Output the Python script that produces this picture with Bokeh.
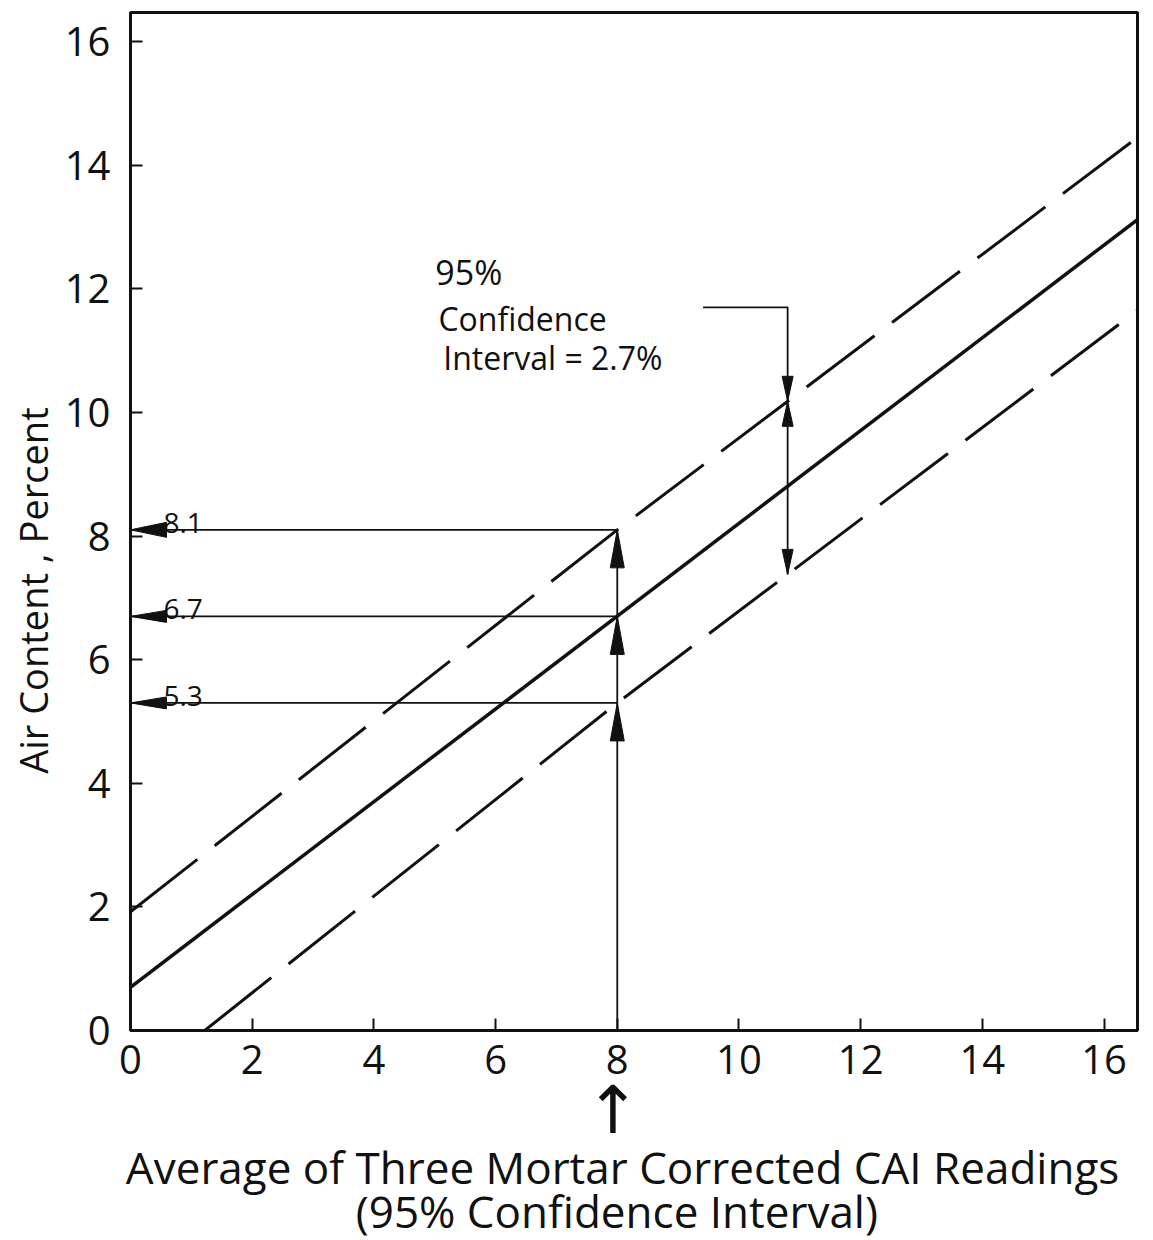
import numpy as np
from bokeh.plotting import figure
from bokeh.models import Range1d, Label, FixedTicker, Title
from bokeh.embed import file_html
from bokeh.resources import INLINE

# Axis ticks
x_ticks = [0, 2, 4, 6, 8, 10, 12, 14, 16]
y_ticks = [0, 2, 4, 6, 8, 10, 12, 14, 16]
x_max, y_max = 16.55, 16.47

# Calibration line: air content vs. average corrected CAI reading
fit_x = [0.0, 16.55]
fit_y = [0.7, 13.12]

# 95% confidence bounds
upper_x = [0.0, 8.0, 16.55]
upper_y = [1.92, 8.1, 14.45]
lower_x = [1.22, 8.0, 16.55]
lower_y = [0.0, 5.3, 11.65]

# Worked example at a reading of 8
reading = 8.0
readouts = [8.1, 6.7, 5.3]
readout_labels = ["8.1", "6.7", "5.3"]

# Where the confidence interval width is shown
interval_at = 10.8

FONT = "Open Sans"
INK = "#111111"
NBSP = "\u00a0"

LEFT, RIGHT, TOP, BOTTOM = 130, 16, 12, 210
W, H = 1153, 1240
px_x = (W - LEFT - RIGHT) / x_max   # pixels per x unit
px_y = (H - TOP - BOTTOM) / y_max   # pixels per y unit

p = figure(width=W, height=H, x_range=Range1d(0, x_max), y_range=Range1d(0, y_max),
           output_backend="svg", toolbar_location=None,
           min_border_left=LEFT, min_border_right=RIGHT,
           min_border_top=TOP, min_border_bottom=BOTTOM)

p.grid.visible = False
p.outline_line_color = INK
p.outline_line_width = 3
p.background_fill_color = "white"
p.border_fill_color = "white"

for ax, ticks in ((p.xaxis[0], x_ticks), (p.yaxis[0], y_ticks)):
    ax.ticker = FixedTicker(ticks=ticks)
    ax.axis_line_width = 3
    ax.axis_line_color = INK
    ax.major_tick_in = 12
    ax.major_tick_out = 0
    ax.major_tick_line_width = 2
    ax.major_tick_line_color = INK
    ax.minor_tick_line_color = None
    ax.major_label_text_font = FONT
    ax.major_label_text_font_size = "40px"
    ax.major_label_text_color = INK
p.xaxis[0].major_label_standoff = 14
p.yaxis[0].major_label_standoff = 20


def head(tx, ty, dx, dy, length, width):
    """Filled arrowhead with its tip at (tx, ty), pointing along (dx, dy) in screen pixels."""
    bx, by = -dx * length, -dy * length
    nx, ny = -dy * width / 2, dx * width / 2
    xs = [tx, tx + (bx + nx) / px_x, tx + (bx - nx) / px_x]
    ys = [ty, ty + (by + ny) / px_y, ty + (by - ny) / px_y]
    return xs, ys


# Calibration line and confidence bounds
p.line(fit_x, fit_y, line_color=INK, line_width=3.5)
p.line(upper_x, upper_y, line_color=INK, line_width=3, line_dash="85 22")
p.line(lower_x, lower_y, line_color=INK, line_width=3, line_dash="85 22")

heads_x, heads_y = [], []

# Vertical guide at the reading, with arrowheads at each intersection
p.segment(x0=[reading], y0=[0], x1=[reading], y1=[max(readouts)], line_color=INK, line_width=1.8)
for v in readouts:
    hx, hy = head(reading, v, 0, 1, 38, 14)
    heads_x.append(hx); heads_y.append(hy)

# Horizontal read-outs to the air-content axis
p.segment(x0=[reading] * len(readouts), y0=readouts, x1=[0] * len(readouts), y1=readouts,
          line_color=INK, line_width=1.8)
for i, v in enumerate(readouts):
    hx, hy = head(0, v, -1, 0, 36, 15 if i == 0 else 12)
    heads_x.append(hx); heads_y.append(hy)
    p.add_layout(Label(x=0, y=v, text=readout_labels[i], x_offset=33, y_offset=7,
                       text_font=FONT, text_font_size="28px", text_color=INK,
                       text_baseline="alphabetic"))

# Confidence interval bracket
ci_hi = float(np.interp(interval_at, upper_x, upper_y))
ci_lo = float(np.interp(interval_at, lower_x, lower_y))
bracket_y, bracket_x0 = 11.7, 9.41
p.line([bracket_x0, interval_at, interval_at], [bracket_y, bracket_y, ci_hi],
       line_color=INK, line_width=1.8)
p.segment(x0=[interval_at], y0=[ci_hi], x1=[interval_at], y1=[ci_lo], line_color=INK, line_width=1.8)
for (tx, ty, dy) in ((interval_at, ci_hi, -1), (interval_at, ci_hi, 1), (interval_at, ci_lo, -1)):
    hx, hy = head(tx, ty, 0, dy, 25, 11)
    heads_x.append(hx); heads_y.append(hy)

p.patches(heads_x, heads_y, fill_color=INK, line_color=INK, line_width=1)

ann = dict(text_font=FONT, text_color=INK, text_baseline="middle")
p.add_layout(Label(x=bracket_x0 - 4.40, y=bracket_y + 0.57, text="95%", text_font_size="34px", **ann))
p.add_layout(Label(x=bracket_x0 - 4.35, y=bracket_y - 0.18, text="Confidence", text_font_size="32px", **ann))
p.add_layout(Label(x=bracket_x0 - 4.27, y=bracket_y - 0.81, text="Interval = 2.7%", text_font_size="32px", **ann))

# Axis titles (trailing no-break spaces nudge the centred text)
title_style = dict(align="center", text_font_style="normal", text_color=INK)
p.add_layout(Title(text="Air  Content , Percent" + NBSP * 13, text_font=FONT, text_font_size="38px",
                   standoff=6, **title_style), "left")
p.add_layout(Title(text="\u2191" + NBSP * 2, text_font="DejaVu Sans", text_font_size="66px",
                   standoff=-14, **title_style), "below")
p.add_layout(Title(text="Average of Three Mortar Corrected CAI Readings" + NBSP * 2, text_font=FONT,
                   text_font_size="44px", standoff=-14, **title_style), "below")
p.add_layout(Title(text="(95% Confidence Interval)" + NBSP * 3, text_font=FONT,
                   text_font_size="44px", standoff=-22, **title_style), "below")

open("out.html", "w").write(file_html(p, INLINE))
